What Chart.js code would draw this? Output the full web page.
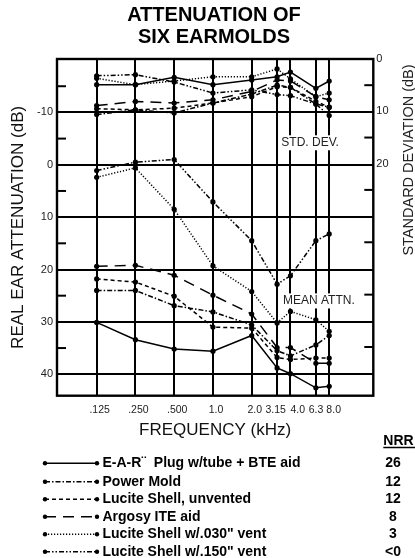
<!DOCTYPE html>
<html><head><meta charset="utf-8">
<script src="https://cdn.jsdelivr.net/npm/chart.js@4.4.1/dist/chart.umd.min.js"></script>
<style>html,body{margin:0;padding:0;background:#fff;}canvas{display:block;}</style>
</head><body>
<canvas id="c" width="415" height="558"></canvas>
<script>
const FONT = '"Liberation Sans", Arial, Helvetica, sans-serif';

// ---- data ----
const frequencies = [0.125, 0.25, 0.5, 1, 2, 3.15, 4, 6.3, 8];
const frequencyLabels = ['.125', '.250', '.500', '1.0', '2.0', '3.15   ', '   4.0', '6.3  ', ' 8.0'];
const attnTicks = [-10, 0, 10, 20, 30, 40];
const attnMinorTicks = [-15, -5, 5, 15, 25, 35];
const sdTicks = [0, 10, 20];
const sdMinorTicks = [5, 15, 25, 35, 45, 55];

const seriesNames = [
  'E-A-R\u00A8  Plug w/tube + BTE aid',
  'Power Mold',
  'Lucite Shell, unvented',
  'Argosy ITE aid',
  'Lucite Shell w/.030" vent',
  'Lucite Shell w/.150" vent'
];
const nrrValues = ['26', '12', '12', '8', '3', '<0'];

// mean attenuation (dB)
const meanEAR       = [30.1, 33.4, 35.2, 35.6, 32.6, 38.8, 39.9, 42.6, 42.3];
const meanPowerMold = [24.0, 24.0, 26.9, 28.1, 30.6, 35.5, 36.5, 34.4, 32.6];
const meanUnvented  = [21.8, 22.4, 25.1, 31.0, 31.2, 36.8, 37.2, 36.9, 36.9];
const meanArgosy    = [19.4, 19.2, 21.1, 24.9, 28.5, 34.9, 34.9, 37.9, 37.9];
const meanVent030   = [2.4, 0.6, 8.5, 19.3, 24.2, 30.2, 28.0, 29.6, 31.8];
const meanVent150   = [1.1, -0.5, -1.0, 7.1, 14.5, 22.8, 21.2, 14.5, 13.2];

// standard deviation (dB)
const sdEAR       = [4.9, 4.9, 3.5, 4.9, 4.0, 3.4, 2.5, 5.6, 4.2];
const sdPowerMold = [10.6, 9.7, 10.3, 8.4, 6.7, 5.0, 5.4, 8.6, 9.2];
const sdUnvented  = [9.5, 9.7, 9.4, 8.4, 7.2, 5.3, 5.4, 8.1, 9.2];
const sdArgosy    = [8.9, 8.1, 8.4, 7.8, 6.2, 4.0, 4.2, 7.2, 7.8];
const sdVent030   = [3.7, 4.9, 4.2, 3.4, 3.4, 1.9, 3.8, 7.2, 6.5];
const sdVent150   = [3.2, 3.0, 4.4, 6.5, 5.9, 6.8, 7.0, 8.6, 10.8];

// ---- styles ----
const dashStyles = [[], [5, 2, 1.5, 2], [4, 3], [11, 7], [1.2, 1.8], [5, 2, 1.5, 2, 1.5, 2]];
const meanSeries = [meanEAR, meanPowerMold, meanUnvented, meanArgosy, meanVent030, meanVent150];
const sdSeries = [sdEAR, sdPowerMold, sdUnvented, sdArgosy, sdVent030, sdVent150];

function toPoints(vals) { return frequencies.map((f, i) => ({x: f, y: vals[i]})); }
function makeDs(label, vals, dash, axis) {
  return {
    label, data: toPoints(vals), yAxisID: axis,
    borderColor: '#000', borderWidth: 1.5, borderDash: dash, borderCapStyle: 'butt',
    pointRadius: 2.6, pointBackgroundColor: '#000', pointBorderColor: '#000', pointBorderWidth: 0,
    fill: false, tension: 0
  };
}
const datasets = [];
seriesNames.forEach((n, i) => datasets.push(makeDs(n, meanSeries[i], dashStyles[i], 'y')));
seriesNames.forEach((n, i) => datasets.push(makeDs(n + ' (SD)', sdSeries[i], dashStyles[i], 'y2')));

function hline(ctx, x1, y, x2) { ctx.beginPath(); ctx.moveTo(x1, y); ctx.lineTo(x2, y); ctx.stroke(); }

function boxedLabel(ctx, text, x, y) {
  ctx.font = '12px ' + FONT;
  const w = ctx.measureText(text).width;
  ctx.fillStyle = '#fff';
  ctx.fillRect(x - 3, y - 7.5, w + 6, 15);
  ctx.fillStyle = '#222';
  ctx.textAlign = 'left'; ctx.textBaseline = 'middle';
  ctx.fillText(text, x, y);
}

const decor = {
  id: 'decor',
  beforeDatasetsDraw(chart) {
    const {ctx, chartArea: a, scales} = chart;
    ctx.save();
    ctx.strokeStyle = '#000'; ctx.lineWidth = 2;
    attnMinorTicks.forEach(v => hline(ctx, a.left, scales.y.getPixelForValue(v), a.left + 9));
    sdMinorTicks.forEach(v => hline(ctx, a.right - 9, scales.y2.getPixelForValue(v), a.right));
    ctx.lineWidth = 2.4;
    ctx.strokeRect(a.left, a.top, a.right - a.left, a.bottom - a.top);
    boxedLabel(ctx, 'STD. DEV.', scales.x.getPixelForValue(3.4), scales.y2.getPixelForValue(16));
    boxedLabel(ctx, 'MEAN ATTN.', scales.x.getPixelForValue(3.5), scales.y.getPixelForValue(26));
    ctx.restore();
  },
  afterDraw(chart) {
    const {ctx} = chart;
    ctx.save();
    // title
    ctx.fillStyle = '#000';
    ctx.textAlign = 'center'; ctx.textBaseline = 'middle';
    ctx.font = 'bold 20px ' + FONT;
    ctx.fillText('ATTENUATION OF', 214, 15);
    ctx.fillText('SIX EARMOLDS', 214, 37.5);
    // right axis title
    ctx.save();
    ctx.translate(409, 160);
    ctx.rotate(-Math.PI / 2);
    ctx.font = '14.5px ' + FONT;
    ctx.fillStyle = '#222';
    ctx.fillText('STANDARD DEVIATION (dB)', 0, 0);
    ctx.restore();
    // legend
    ctx.font = 'bold 14px ' + FONT;
    ctx.textAlign = 'left';
    ctx.fillStyle = '#000';
    ctx.fillText('NRR', 383.3, 441);
    ctx.strokeStyle = '#000'; ctx.lineWidth = 1.5;
    hline(ctx, 383.3, 447.5, 415);
    const rowY = [463.3, 481.7, 499.3, 516.7, 534.3, 551.7];
    seriesNames.forEach((n, i) => {
      const y = rowY[i];
      ctx.save();
      ctx.lineWidth = 1.5; ctx.setLineDash(dashStyles[i]);
      hline(ctx, 45, y, 97);
      ctx.restore();
      [45, 97].forEach(x => { ctx.beginPath(); ctx.arc(x, y, 2.2, 0, Math.PI * 2); ctx.fill(); });
      ctx.textAlign = 'left';
      ctx.fillText(n, 102.5, y);
      ctx.textAlign = 'center';
      ctx.fillText(nrrValues[i], 393, y);
    });
    ctx.restore();
  }
};

new Chart(document.getElementById('c'), {
  type: 'line',
  data: {datasets},
  plugins: [decor],
  options: {
    responsive: false, animation: false, events: [],
    devicePixelRatio: 1,
    layout: {padding: {top: 59, left: 0, right: 0, bottom: 117.8}},
    plugins: {legend: {display: false}, tooltip: {enabled: false}, title: {display: false}},
    scales: {
      x: {
        type: 'logarithmic', min: 0.0615, max: 17.6,
        afterBuildTicks: s => { s.ticks = frequencies.map(v => ({value: v})); },
        afterFit: s => { s.height = 44.5; },
        grid: {display: true, color: '#000', lineWidth: 2, drawTicks: false},
        border: {display: false},
        ticks: {
          autoSkip: false, maxRotation: 0, minRotation: 0, padding: 8, labelOffset: 3,
          color: '#222', font: {family: FONT, size: 10.5},
          callback: (v, i) => frequencyLabels[i]
        },
        title: {display: true, text: 'FREQUENCY (kHz)', color: '#111', font: {family: FONT, size: 17}, padding: {top: 0, bottom: 0}}
      },
      y: {
        type: 'linear', position: 'left', reverse: true, min: -20.2, max: 44.1,
        afterBuildTicks: s => { s.ticks = attnTicks.map(v => ({value: v})); },
        afterFit: s => { s.width = 57; },
        grid: {display: true, color: '#000', lineWidth: 2, drawTicks: false},
        border: {display: false},
        ticks: {padding: 4, color: '#222', font: {family: FONT, size: 11}, callback: v => String(v)},
        title: {display: true, text: 'REAL EAR ATTENUATION (dB)', color: '#111', font: {family: FONT, size: 17}, padding: {top: 8, bottom: 0}}
      },
      y2: {
        type: 'linear', position: 'right', reverse: true, min: 0, max: 64.3,
        afterBuildTicks: s => { s.ticks = sdTicks.map(v => ({value: v})); },
        afterFit: s => { s.width = 41.7; },
        grid: {display: false, drawTicks: false},
        border: {display: false},
        ticks: {padding: 3, color: '#222', font: {family: FONT, size: 11}, callback: v => String(v)}
      }
    }
  }
});
</script>
</body></html>
